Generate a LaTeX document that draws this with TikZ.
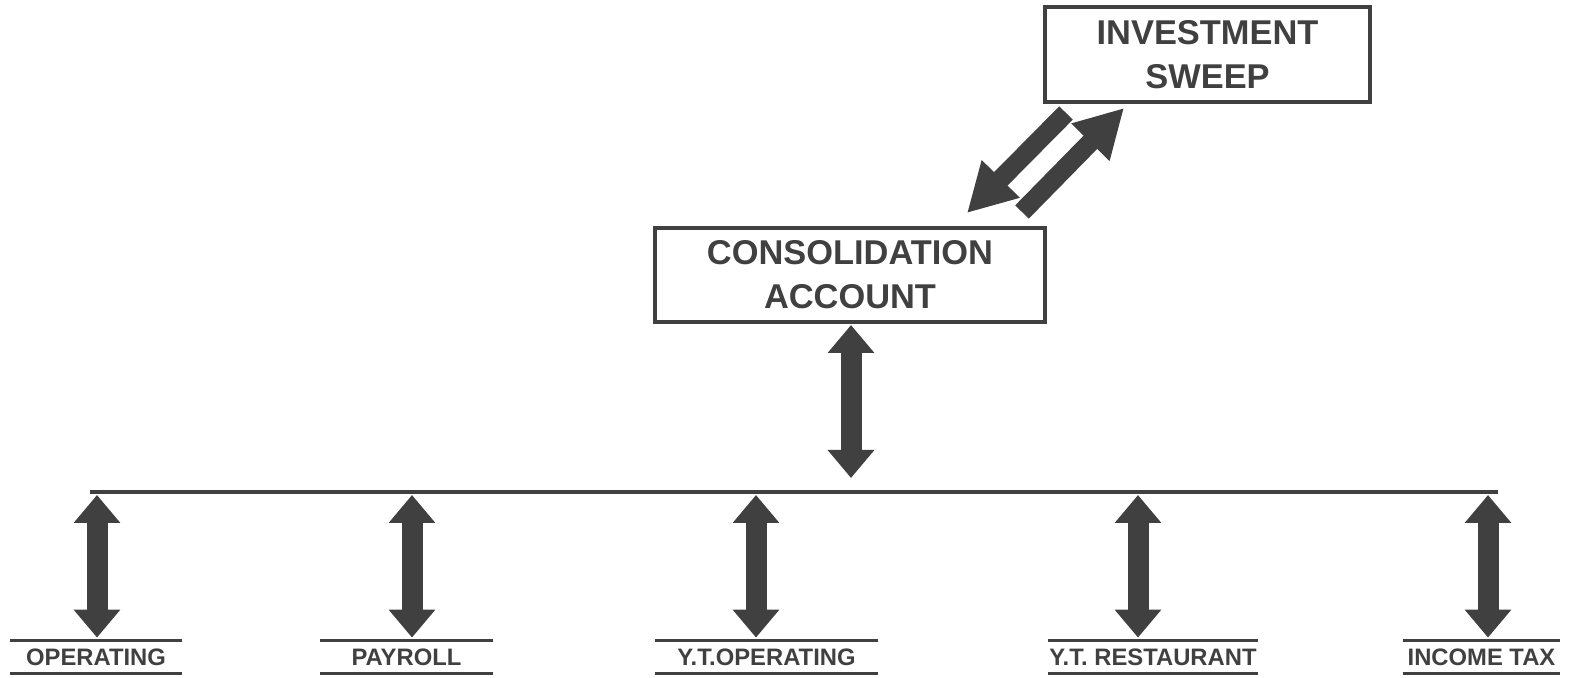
\documentclass[tikz,border=0pt]{standalone}
\usepackage{fontspec}
\setmainfont{Liberation Sans}
\usetikzlibrary{arrows.meta,calc}
\definecolor{ink}{HTML}{404040}
\begin{document}
\begin{tikzpicture}[x=0.5pt,y=-0.5pt,
  box/.style={draw=ink,line width=2pt,inner sep=0pt,align=center,text=ink,
    font=\bfseries\fontsize{17.2}{22}\selectfont},
  lbl/.style={inner sep=0pt,text=ink,minimum height=16pt,
    font=\bfseries\fontsize{11.9}{13}\selectfont},
  rule/.style={draw=ink,line width=1.5pt},
  bus/.style={draw=ink,line width=2pt},
  dbl/.style={draw=ink,line width=10.5pt,
    {Triangle[width=22.5pt,length=14pt]}-{Triangle[width=22.5pt,length=14pt]}},
  diag/.style={draw=ink,line width=9.5pt,-{Triangle[width=25pt,length=24pt]}}]
\useasboundingbox (0,0) rectangle (1575,678);

% boxes
\node[box,minimum width=162.5pt,minimum height=47.5pt] (inv) at (1207.5,54.5) {INVESTMENT\\SWEEP};
\node[box,minimum width=195pt,minimum height=47pt] (cons) at (850,275) {CONSOLIDATION\\ACCOUNT};

% bottom labels
\node[lbl,minimum width=86pt]   (op)  at (96,657)    {OPERATING};
\node[lbl,minimum width=86.5pt] (pay) at (406.5,657) {PAYROLL};
\node[lbl,minimum width=111.5pt](yto) at (766.5,657) {Y.T.OPERATING};
\node[lbl,minimum width=105pt]  (ytr) at (1153,657)  {Y.T. RESTAURANT};
\node[lbl,minimum width=78.5pt] (inc) at (1481.5,657){INCOME TAX};
\foreach \n in {op,pay,yto,ytr,inc}{
  \draw[rule] (\n.north west) -- (\n.north east);
  \draw[rule] (\n.south west) -- (\n.south east);
}

% bus line
\coordinate (busL) at (90,492);
\coordinate (busR) at (1498,492);
\draw[bus] (busL) -- (busR);
\coordinate (b1) at (97,492);
\coordinate (b2) at (412,492);
\coordinate (b3) at (756,492);
\coordinate (b4) at (1138,492);
\coordinate (b5) at (1488,492);

% vertical double arrows
\draw[dbl,shorten <=1.5pt,shorten >=1.5pt] (b1) -- (b1 |- op.north);
\draw[dbl,shorten <=1.5pt,shorten >=1.5pt] (b2) -- (b2 |- pay.north);
\draw[dbl,shorten <=1.5pt,shorten >=1.5pt] (b3) -- (b3 |- yto.north);
\draw[dbl,shorten <=1.5pt,shorten >=1.5pt] (b4) -- (b4 |- ytr.north);
\draw[dbl,shorten <=1.5pt,shorten >=1.5pt] (b5) -- (b5 |- inc.north);

% central double arrow
\coordinate (cx) at (851,322);
\draw[dbl,shorten <=1.5pt,shorten >=7pt] (cx) -- (cx |- busL);

% diagonal arrows
\draw[diag] ($(inv.south west)+(23,9)$) -- ($(cons.north east)+(-80,-13)$);
\draw[diag] ($(cons.north east)+(-25,-14)$) -- ($(inv.south west)+(81,4)$);
\end{tikzpicture}
\end{document}
